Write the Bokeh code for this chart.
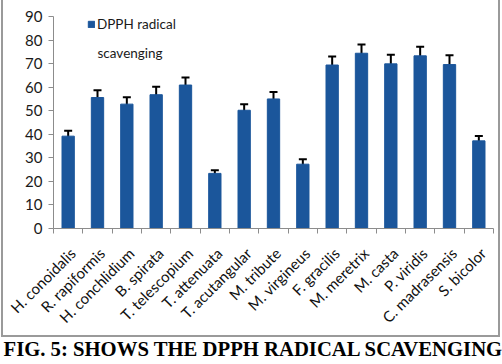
from bokeh.plotting import figure
from bokeh.models import (ColumnDataSource, FixedTicker, Whisker, TeeHead, Legend,
                          LegendItem, Label, Title, InlineStyleSheet)
from bokeh.embed import file_html
from bokeh.resources import INLINE
import math

# DPPH radical scavenging (%) per species, with error margins
species = ["H. conoidalis", "R. rapiformis", "H. conchlidium", "B. spirata",
           "T. telescopium", "T. attenuata", "T. acutangular", "M. tribute",
           "M. virgineus", "F. gracilis", "M. meretrix", "M. casta",
           "P. viridis", "C. madrasensis", "S. bicolor"]
scavenging = [39.2, 55.6, 52.8, 56.8, 60.9, 23.4, 50.2, 55.0, 27.3, 69.4,
              74.4, 69.9, 73.3, 69.6, 37.2]
errors = [2.3, 3.1, 2.9, 3.4, 3.2, 1.3, 2.6, 3.0, 2.1, 3.6, 3.7, 3.9, 3.9, 3.9, 2.1]
y_ticks = [0, 10, 20, 30, 40, 50, 60, 70, 80, 90]

BAR_COLOR = "#1B569B"
AXIS_GRAY = "#8C8C8C"

x_pos = [i + 0.5 for i in range(len(species))]
src = ColumnDataSource(dict(
    x=x_pos,
    top=scavenging,
    upper=[v + e for v, e in zip(scavenging, errors)],
    lower=[v - e for v, e in zip(scavenging, errors)],
))

# thin grey frame drawn around the chart area
frame_css = InlineStyleSheet(css="""
:host { position: relative; }
:host::after {
  content: ""; position: absolute; left: 1px; top: -2px;
  width: 499px; height: 339px; box-sizing: border-box;
  border: 2px solid #9A9A9A; pointer-events: none; z-index: 10;
}
""")

p = figure(width=502, height=364, output_backend="svg", toolbar_location=None,
           x_range=(0, len(species)), y_range=(0, 90),
           min_border_left=53, min_border_right=9,
           min_border_top=16, min_border_bottom=136)
p.stylesheets = [frame_css]
p.outline_line_color = None
p.grid.grid_line_color = None
p.background_fill_color = "white"
p.border_fill_color = "white"

bars = p.vbar(x="x", top="top", width=0.42, bottom=0, source=src,
              fill_color=BAR_COLOR, line_color=BAR_COLOR)

whisk = Whisker(source=src, base="x", upper="upper", lower="lower",
                line_color="black", line_width=2,
                upper_head=TeeHead(size=8, line_color="black", line_width=2),
                lower_head=TeeHead(size=8, line_color="black", line_width=2))
p.add_layout(whisk)

# y axis
p.yaxis.ticker = FixedTicker(ticks=y_ticks)
p.yaxis.axis_line_color = AXIS_GRAY
p.yaxis.major_tick_line_color = AXIS_GRAY
p.yaxis.major_tick_in = 0
p.yaxis.major_tick_out = 5
p.yaxis.minor_tick_line_color = None
p.yaxis.major_label_text_font = "Lato"
p.yaxis.major_label_text_font_size = "15px"
p.yaxis.major_label_text_color = "#1a1a1a"
p.yaxis.major_label_standoff = 6

# x axis: tick marks between bars; slanted names hang just right of each bar
label_shift = 0.15
label_pos = [x + label_shift for x in x_pos]
p.xaxis.ticker = FixedTicker(ticks=label_pos, minor_ticks=list(range(len(species) + 1)))
p.xaxis.major_label_overrides = {x: s for x, s in zip(label_pos, species)}
p.xaxis.major_label_orientation = math.radians(45)
p.xaxis.axis_line_color = AXIS_GRAY
p.xaxis.major_tick_line_color = None
p.xaxis.minor_tick_line_color = AXIS_GRAY
p.xaxis.minor_tick_in = 0
p.xaxis.minor_tick_out = 5
p.xaxis.major_label_text_font = "Lato"
p.xaxis.major_label_text_font_size = "15px"
p.xaxis.major_label_text_color = "#111111"
p.xaxis.major_label_standoff = 16

# legend: swatch beside the first line, second line as a label
legend = Legend(items=[LegendItem(label="DPPH radical", renderers=[bars])],
                location=(34, 196), border_line_color=None,
                background_fill_alpha=0, padding=0, margin=0,
                glyph_width=8, glyph_height=8, label_height=16,
                label_text_font="Lato", label_text_font_size="13.5px",
                label_text_color="#1a1a1a", label_standoff=2)
p.add_layout(legend)
p.add_layout(Label(x=44, y=176, x_units="screen", y_units="screen",
                   text="scavenging", text_font="Lato", text_font_size="13.5px",
                   text_color="#1a1a1a", text_baseline="alphabetic"))

# figure caption under the chart
caption = Title(text="FIG. 5: SHOWS THE DPPH RADICAL SCAVENGING", align="left",
                offset=-50, text_font="Liberation Serif", text_font_style="bold",
                text_font_size="20.7px", text_color="black", standoff=0)
p.add_layout(caption, "below")

open("out.html", "w").write(file_html(p, INLINE))
